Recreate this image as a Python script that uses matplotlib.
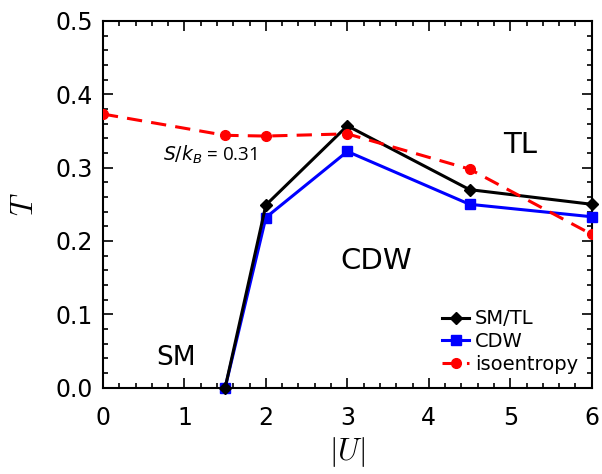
import matplotlib
matplotlib.use("Agg")
import matplotlib.pyplot as plt
from matplotlib.ticker import MultipleLocator

# dados
u_smtl = [1.5, 2.0, 3.0, 4.5, 6.0]
t_smtl = [0.0, 0.249, 0.357, 0.270, 0.250]

u_cdw = [1.5, 2.0, 3.0, 4.5, 6.0]
t_cdw = [0.0, 0.232, 0.322, 0.250, 0.233]

u_iso = [0.0, 1.5, 2.0, 3.0, 4.5, 6.0]
t_iso = [0.373, 0.344, 0.343, 0.346, 0.298, 0.209]

plt.rcParams['mathtext.fontset'] = 'cm'

fig, ax = plt.subplots(figsize=(6.02, 4.74), dpi=100)
fig.subplots_adjust(left=0.171, right=0.983, top=0.956, bottom=0.182)

ax.plot(u_smtl, t_smtl, color='black', marker='D', markersize=6.5, linewidth=2.2, label='SM/TL', clip_on=False, zorder=4)
ax.plot(u_cdw, t_cdw, color='blue', marker='s', markersize=6.5, linewidth=2.2, label='CDW', clip_on=False, zorder=3)
ax.plot(u_iso, t_iso, color='red', marker='o', markersize=7, linewidth=2.2, linestyle=(0, (5, 3)),
        label='isoentropy', zorder=5)

ax.set_xlim(0, 6)
ax.set_ylim(0, 0.5)
ax.xaxis.set_major_locator(MultipleLocator(1))
ax.xaxis.set_minor_locator(MultipleLocator(0.2))
ax.yaxis.set_major_locator(MultipleLocator(0.1))
ax.yaxis.set_minor_locator(MultipleLocator(0.02))
ax.tick_params(which='both', direction='in', top=True, right=True, labelsize=17, width=1.2)
ax.tick_params(which='major', length=7, pad=7)
ax.tick_params(axis='x', which='major', pad=13)
ax.tick_params(which='minor', length=3.5)
for s in ax.spines.values():
    s.set_linewidth(1.5)

ax.set_xlabel(r'$|U|$', fontsize=22, labelpad=4)
ax.set_ylabel(r'$T$', fontsize=22, labelpad=12)

ax.text(5.12, 0.331, 'TL', fontsize=21, ha='center', va='center')
ax.text(3.36, 0.173, 'CDW', fontsize=21, ha='center', va='center')
ax.text(0.9, 0.04, 'SM', fontsize=19, ha='center', va='center')
ax.text(0.74, 0.317, r'$S/k_B$ = 0.31', fontsize=13.5, ha='left', va='center',
        family='Open Sans', math_fontfamily='dejavusans')

ax.legend(loc='lower right', frameon=False, fontsize=14, handlelength=1.4,
          handletextpad=0.3, labelspacing=0.2, borderaxespad=0.3,
          bbox_to_anchor=(1.0, 0.0))

fig.savefig('out.png', dpi=100)
